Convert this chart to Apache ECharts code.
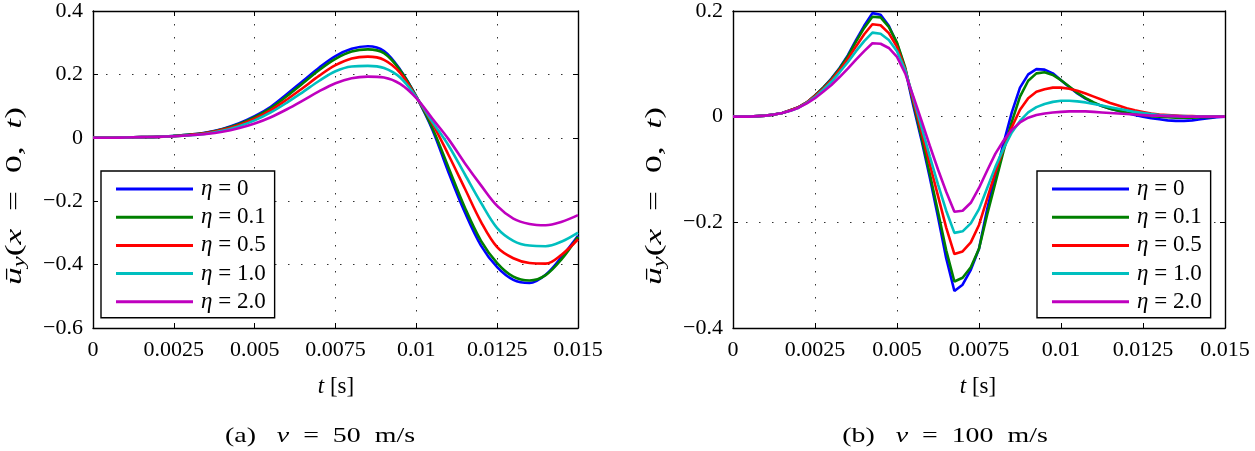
<!DOCTYPE html>
<html><head><meta charset="utf-8">
<script src="https://cdn.jsdelivr.net/npm/echarts@6/dist/echarts.min.js"></script>
<style>html,body{margin:0;padding:0;background:#fff}#c{width:1255px;height:451px}</style>
</head><body><div id="c"></div>
<script>
// ---------- data ----------
const etaLabels = ['0', '0.1', '0.5', '1.0', '2.0'];
const xTickLabels = ['0', '0.0025', '0.005', '0.0075', '0.01', '0.0125', '0.015'];
const yTickLabelsA = ['\u22120.6', '\u22120.4', '\u22120.2', '0', '0.2', '0.4'];
const yTickLabelsB = ['\u22120.4', '\u22120.2', '0', '0.2'];

// (a) v = 50 m/s : time samples
const tA = [0, 0.0005, 0.001, 0.0015, 0.002, 0.0025, 0.003, 0.0035, 0.004, 0.0045,
  0.005, 0.0055, 0.006, 0.0065, 0.007, 0.0075, 0.008, 0.0085, 0.009, 0.0095,
  0.01, 0.0105, 0.011, 0.0115, 0.012, 0.0125, 0.013, 0.0135, 0.014, 0.0145, 0.015];
const uA_eta0 = [0, 0, 0.001, 0.002, 0.003, 0.006, 0.010, 0.017, 0.028, 0.045,
  0.068, 0.098, 0.138, 0.180, 0.222, 0.258, 0.281, 0.289, 0.274, 0.215,
  0.130, 0.025, -0.110, -0.235, -0.340, -0.408, -0.448, -0.458, -0.432, -0.375, -0.309];
const uA_eta01 = [0, 0, 0.001, 0.002, 0.003, 0.006, 0.010, 0.016, 0.027, 0.043,
  0.065, 0.094, 0.132, 0.173, 0.214, 0.249, 0.272, 0.279, 0.267, 0.213,
  0.130, 0.030, -0.095, -0.220, -0.325, -0.395, -0.438, -0.450, -0.433, -0.382, -0.312];
const uA_eta05 = [0, 0, 0.001, 0.002, 0.003, 0.005, 0.009, 0.015, 0.025, 0.040,
  0.060, 0.087, 0.121, 0.158, 0.196, 0.229, 0.250, 0.256, 0.246, 0.205,
  0.128, 0.045, -0.055, -0.160, -0.265, -0.345, -0.380, -0.395, -0.397, -0.368, -0.320];
const uA_eta10 = [0, 0, 0.001, 0.002, 0.003, 0.005, 0.008, 0.013, 0.022, 0.036,
  0.055, 0.080, 0.111, 0.145, 0.180, 0.210, 0.225, 0.227, 0.220, 0.190,
  0.128, 0.050, -0.025, -0.115, -0.205, -0.285, -0.325, -0.340, -0.342, -0.327, -0.299];
const uA_eta20 = [0, 0, 0.001, 0.002, 0.003, 0.005, 0.008, 0.012, 0.019, 0.030,
  0.045, 0.065, 0.090, 0.118, 0.147, 0.172, 0.188, 0.193, 0.190, 0.170,
  0.125, 0.060, -0.005, -0.080, -0.150, -0.215, -0.255, -0.272, -0.276, -0.265, -0.244];

// (b) v = 100 m/s : time samples
const tB = [0, 0.00025, 0.0005, 0.00075, 0.001, 0.00125, 0.0015, 0.00175, 0.002, 0.00225,
  0.0025, 0.00275, 0.003, 0.00325, 0.0035, 0.00375, 0.004, 0.00425, 0.0045, 0.00475,
  0.005, 0.00525, 0.0055, 0.00575, 0.006, 0.00625, 0.0065, 0.00675, 0.007, 0.00725,
  0.0075, 0.00775, 0.008, 0.00825, 0.0085, 0.00875, 0.009, 0.00925, 0.0095, 0.00975,
  0.01, 0.01025, 0.0105, 0.01075, 0.011, 0.01125, 0.0115, 0.01175, 0.012, 0.01225,
  0.0125, 0.01275, 0.013, 0.01325, 0.0135, 0.01375, 0.014, 0.01425, 0.0145, 0.01475, 0.015];
const uB_eta0 = [0, 0, 0, 0.001, 0.002, 0.004, 0.007, 0.012, 0.018, 0.027,
  0.040, 0.055, 0.072, 0.092, 0.116, 0.145, 0.172, 0.196, 0.193, 0.172,
  0.138, 0.090, 0.020, -0.045, -0.115, -0.190, -0.268, -0.330, -0.318, -0.290,
  -0.250, -0.175, -0.110, -0.050, 0.008, 0.055, 0.080, 0.090, 0.089, 0.082,
  0.069, 0.056, 0.044, 0.034, 0.026, 0.020, 0.015, 0.011, 0.007, 0.003,
  0.000, -0.003, -0.005, -0.007, -0.008, -0.008, -0.007, -0.005, -0.003, -0.001, 0];
const uB_eta01 = [0, 0, 0, 0.001, 0.002, 0.004, 0.007, 0.012, 0.018, 0.027,
  0.040, 0.055, 0.071, 0.091, 0.114, 0.142, 0.168, 0.189, 0.188, 0.170,
  0.140, 0.093, 0.025, -0.040, -0.108, -0.180, -0.253, -0.312, -0.305, -0.285,
  -0.250, -0.185, -0.125, -0.065, -0.010, 0.038, 0.068, 0.082, 0.084, 0.079,
  0.069, 0.057, 0.045, 0.035, 0.027, 0.020, 0.015, 0.011, 0.008, 0.005,
  0.003, 0.001, 0, -0.001, -0.002, -0.002, -0.002, -0.001, -0.001, 0, 0];
const uB_eta05 = [0, 0, 0, 0.001, 0.002, 0.004, 0.007, 0.012, 0.018, 0.027,
  0.039, 0.053, 0.069, 0.088, 0.109, 0.133, 0.156, 0.175, 0.173, 0.158,
  0.132, 0.090, 0.030, -0.030, -0.090, -0.150, -0.210, -0.260, -0.255, -0.238,
  -0.205, -0.155, -0.105, -0.060, -0.020, 0.013, 0.035, 0.047, 0.052, 0.055,
  0.055, 0.053, 0.049, 0.044, 0.038, 0.032, 0.026, 0.021, 0.016, 0.012,
  0.009, 0.006, 0.004, 0.003, 0.002, 0.001, 0.001, 0, 0, 0, 0];
const uB_eta10 = [0, 0, 0, 0.001, 0.002, 0.004, 0.007, 0.011, 0.017, 0.026,
  0.037, 0.051, 0.066, 0.084, 0.103, 0.124, 0.143, 0.159, 0.157, 0.145,
  0.124, 0.088, 0.035, -0.020, -0.075, -0.128, -0.178, -0.220, -0.217, -0.202,
  -0.175, -0.135, -0.095, -0.060, -0.030, -0.008, 0.008, 0.018, 0.024, 0.028,
  0.030, 0.030, 0.029, 0.027, 0.024, 0.021, 0.018, 0.015, 0.012, 0.009,
  0.007, 0.005, 0.003, 0.002, 0.001, 0.001, 0, 0, 0, 0, 0];
const uB_eta20 = [0, 0, 0, 0.001, 0.002, 0.004, 0.007, 0.011, 0.017, 0.025,
  0.035, 0.047, 0.060, 0.075, 0.091, 0.108, 0.124, 0.139, 0.138, 0.130,
  0.113, 0.082, 0.038, -0.008, -0.055, -0.100, -0.142, -0.180, -0.178, -0.163,
  -0.135, -0.102, -0.070, -0.045, -0.025, -0.011, -0.002, 0.003, 0.006, 0.008,
  0.009, 0.010, 0.010, 0.010, 0.009, 0.008, 0.007, 0.006, 0.005, 0.004,
  0.003, 0.002, 0.002, 0.001, 0.001, 0, 0, 0, 0, 0, 0];

const colors = ['#0000ff', '#008000', '#ff0000', '#00bfbf', '#bf00bf'];
const seriesA = [uA_eta0, uA_eta01, uA_eta05, uA_eta10, uA_eta20];
const seriesB = [uB_eta0, uB_eta01, uB_eta05, uB_eta10, uB_eta20];

// ---------- chart ----------
const FONT = '"Liberation Serif", "DejaVu Serif", serif';
const TICK_FS = 22;
const chart = echarts.init(document.getElementById('c'), null, {renderer: 'canvas'});

// text measuring helper (layout only)
const mctx = document.createElement('canvas').getContext('2d');
function tw(frags) {
  let s = 0;
  frags.forEach(([txt, size, it]) => { mctx.font = (it ? 'italic ' : '') + size + 'px ' + FONT; s += mctx.measureText(txt).width; });
  return s;
}

function xAxes(gi) {
  const base = {
    gridIndex: gi, type: 'value', min: 0, max: 0.015, interval: 0.0025,
    axisLine: {show: true, onZero: false, lineStyle: {color: '#000', width: 1.4}},
    axisTick: {show: true, inside: true, length: 5, lineStyle: {color: '#000', width: 1}},
  };
  return [
    Object.assign({}, base, {
      position: 'bottom',
      axisLabel: {show: true, color: '#000', fontFamily: FONT, fontSize: TICK_FS, margin: 11,
        formatter: (v, i) => xTickLabels[i]},
      splitLine: {show: true, lineStyle: {color: '#333', width: 1, type: [1.5, 11.5]}}
    }),
    Object.assign({}, base, {position: 'top', axisLabel: {show: false}, splitLine: {show: false}})
  ];
}
function yAxes(gi, min, max, labels) {
  const base = {
    gridIndex: gi, type: 'value', min: min, max: max, interval: 0.2,
    axisLine: {show: true, onZero: false, lineStyle: {color: '#000', width: 1.4}},
    axisTick: {show: true, inside: true, length: 5, lineStyle: {color: '#000', width: 1}},
  };
  return [
    Object.assign({}, base, {
      position: 'left',
      axisLabel: {show: true, color: '#000', fontFamily: FONT, fontSize: TICK_FS, margin: 10,
        formatter: (v, i) => labels[i]},
      splitLine: {show: true, lineStyle: {color: '#333', width: 1, type: [1.5, 11.5]}}
    }),
    Object.assign({}, base, {position: 'right', axisLabel: {show: false}, splitLine: {show: false}})
  ];
}

const series = [];
seriesA.forEach((arr, k) => series.push({
  name: 'a' + k, type: 'line', xAxisIndex: 0, yAxisIndex: 0,
  data: tA.map((t, i) => [t, arr[i]]), showSymbol: false, symbol: 'none', smooth: 0.35,
  lineStyle: {color: colors[k], width: 2.6}, itemStyle: {color: colors[k]}, animation: false
}));
seriesB.forEach((arr, k) => series.push({
  name: 'b' + k, type: 'line', xAxisIndex: 2, yAxisIndex: 2,
  data: tB.map((t, i) => [t, arr[i]]), showSymbol: false, symbol: 'none',
  lineStyle: {color: colors[k], width: 2.6}, itemStyle: {color: colors[k]}, animation: false
}));

function legend(prefix, left, top) {
  return {
    data: etaLabels.map((_, k) => prefix + k), left: left, top: top, orient: 'vertical',
    backgroundColor: '#fff', borderColor: '#000', borderWidth: 1.4,
    padding: [6, 9, 4, 15], itemGap: 4.2, itemWidth: 77, itemHeight: 3, icon: 'rect',
    selectedMode: false,
    formatter: name => '{i|\u03b7} = ' + etaLabels[+name.slice(1)],
    textStyle: {color: '#000', fontFamily: FONT, fontSize: 23, lineHeight: 24, padding: [0, 0, 0, 3],
      rich: {i: {fontStyle: 'italic', fontFamily: FONT, fontSize: 23, lineHeight: 24, color: '#000'}}}
  };
}

const LBL = 23;
const CAP = 22;
const richLabel = {
  n: {fontFamily: FONT, fontSize: LBL, color: '#000'},
  i: {fontFamily: FONT, fontSize: LBL, fontStyle: 'italic', color: '#000'},
  s: {fontFamily: FONT, fontSize: 16, fontStyle: 'italic', color: '#000', padding: [9, 0, 0, 0]},
  cn: {fontFamily: FONT, fontSize: CAP, color: '#000'},
  ci: {fontFamily: FONT, fontSize: CAP, fontStyle: 'italic', color: '#000'}
};
const yName = '{i|\u016b}{s|y}{n|(}{i|x}{n|  =  0,  }{i|t}{n|)}';
const yNameW = tw([['\u016b', LBL, 1], ['y', 16, 1], ['(', LBL], ['x', LBL, 1], ['  =  0,  ', LBL], ['t', LBL, 1], [')', LBL]]);
const capA = '{cn|(a)   }{ci|v}{cn|  =  50  m/s}';
const capAW = tw([['(a)   ', CAP], ['v', CAP, 1], ['  =  50  m/s', CAP]]);
const capB = '{cn|(b)   }{ci|v}{cn|  =  100  m/s}';

function gText(x, y, text, rot, sx) {
  return {type: 'text', x: x, y: y, rotation: rot || 0, scaleX: sx || 1, z: 10,
    style: {text: text, rich: richLabel, align: 'center', verticalAlign: 'middle',
      fontFamily: FONT, fontSize: LBL, fill: '#000'}};
}
const ySX = 178 / yNameW;
const capSX = 190 / capAW;

chart.setOption({
  animation: false,
  backgroundColor: '#fff',
  grid: [
    {left: 93, top: 9, width: 485, height: 319, containLabel: false},
    {left: 733, top: 9, width: 492, height: 319, containLabel: false}
  ],
  xAxis: [...xAxes(0), ...xAxes(1)],
  yAxis: [...yAxes(0, -0.6, 0.4, yTickLabelsA), ...yAxes(1, -0.4, 0.2, yTickLabelsB)],
  legend: [legend('a', 101, 171), legend('b', 1037, 171)],
  series: series,
  graphic: [
    gText(15, 196, yName, Math.PI / 2, ySX),
    gText(655, 196, yName, Math.PI / 2, ySX),
    gText(336, 387, '{i|t} {n|[s]}'),
    gText(978, 387, '{i|t} {n|[s]}'),
    gText(320, 436, capA, 0, capSX),
    gText(945, 436, capB, 0, capSX)
  ]
});
</script>
</body></html>
